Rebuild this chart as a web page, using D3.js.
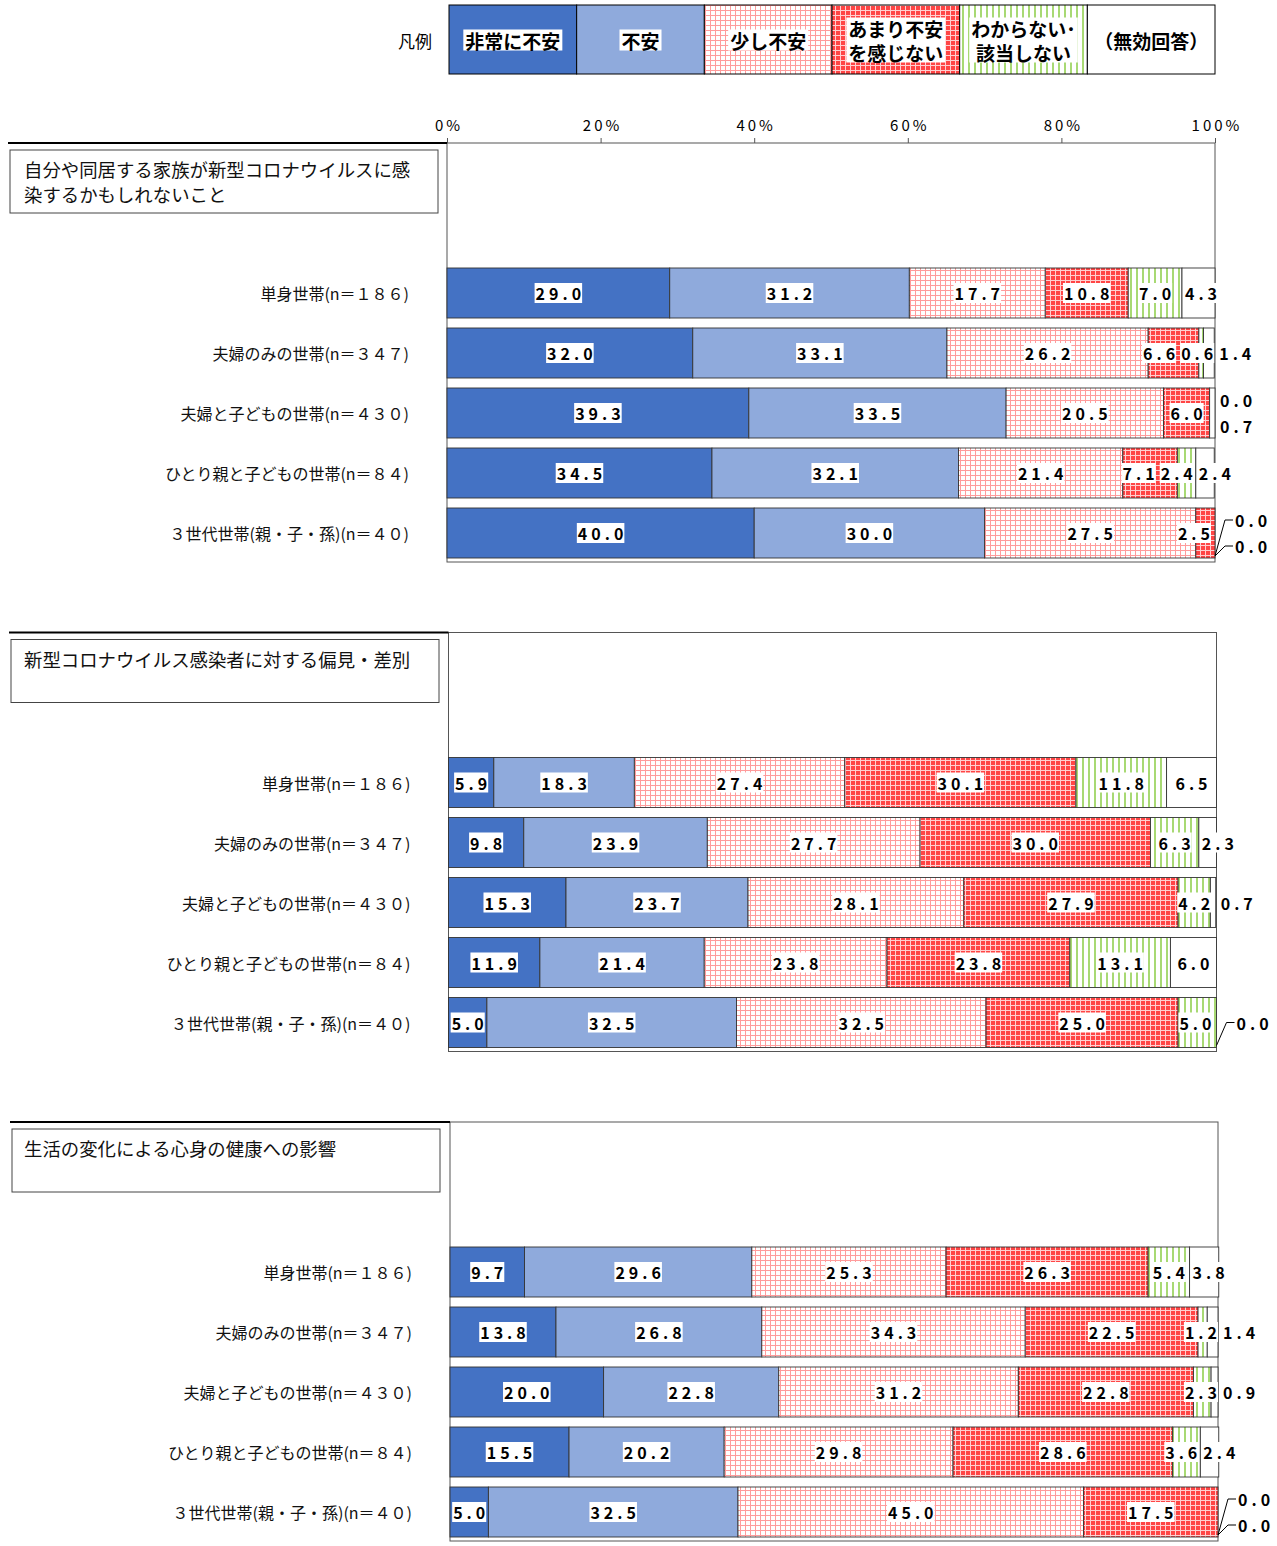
<!DOCTYPE html>
<html>
<head>
<meta charset="utf-8">
<script src="https://cdn.jsdelivr.net/npm/d3@7"></script>
<style>
  body { margin: 0; background: #fff; }
  svg { font-family: "Noto Sans CJK JP", "Noto Sans", sans-serif; }
</style>
</head>
<body>
<svg id="chart" width="1277" height="1546"></svg>
<script>
const categories = [
  "単身世帯(n＝１８６)",
  "夫婦のみの世帯(n＝３４７)",
  "夫婦と子どもの世帯(n＝４３０)",
  "ひとり親と子どもの世帯(n＝８４)",
  "３世代世帯(親・子・孫)(n＝４０)"
];
const series = ["非常に不安", "不安", "少し不安", "あまり不安を感じない", "わからない・該当しない", "（無効回答）"];
const legendLines = [["非常に不安"], ["不安"], ["少し不安"], ["あまり不安", "を感じない"], ["わからない･", "該当しない"], ["（無効回答）"]];
const titles = [
  ["自分や同居する家族が新型コロナウイルスに感", "染するかもしれないこと"],
  ["新型コロナウイルス感染者に対する偏見・差別"],
  ["生活の変化による心身の健康への影響"]
];
const ticks = [0, 20, 40, 60, 80, 100];

// values per category, in series order
const infection = [
  [29.0, 31.2, 17.7, 10.8, 7.0, 4.3],
  [32.0, 33.1, 26.2, 6.6, 0.6, 1.4],
  [39.3, 33.5, 20.5, 6.0, 0.0, 0.7],
  [34.5, 32.1, 21.4, 7.1, 2.4, 2.4],
  [40.0, 30.0, 27.5, 2.5, 0.0, 0.0]
];
const prejudice = [
  [5.9, 18.3, 27.4, 30.1, 11.8, 6.5],
  [9.8, 23.9, 27.7, 30.0, 6.3, 2.3],
  [15.3, 23.7, 28.1, 27.9, 4.2, 0.7],
  [11.9, 21.4, 23.8, 23.8, 13.1, 6.0],
  [5.0, 32.5, 32.5, 25.0, 5.0, 0.0]
];
const health = [
  [9.7, 29.6, 25.3, 26.3, 5.4, 3.8],
  [13.8, 26.8, 34.3, 22.5, 1.2, 1.4],
  [20.0, 22.8, 31.2, 22.8, 2.3, 0.9],
  [15.5, 20.2, 29.8, 28.6, 3.6, 2.4],
  [5.0, 32.5, 45.0, 17.5, 0.0, 0.0]
];
const panels = [infection, prejudice, health];

const svg = d3.select('#chart');
const defs = svg.append('defs');

// fill patterns
let p = defs.append('pattern').attr('id', 'pinkGrid')
  .attr('patternUnits', 'userSpaceOnUse').attr('width', 5).attr('height', 5);
p.append('rect').attr('width', 5).attr('height', 5).attr('fill', '#fff');
p.append('path').attr('d', 'M0,0.5H5M0.5,0V5').attr('stroke', '#ff9c9c').attr('stroke-width', 1);

p = defs.append('pattern').attr('id', 'redGrid')
  .attr('patternUnits', 'userSpaceOnUse').attr('width', 5).attr('height', 5);
p.append('rect').attr('width', 5).attr('height', 5).attr('fill', '#ff4545');
p.append('path').attr('d', 'M0,0.5H5M0.5,0V5').attr('stroke', '#ffd0d0').attr('stroke-width', 1);

p = defs.append('pattern').attr('id', 'greenLines')
  .attr('patternUnits', 'userSpaceOnUse').attr('width', 6).attr('height', 6);
p.append('rect').attr('width', 6).attr('height', 6).attr('fill', '#fff');
p.append('path').attr('d', 'M3,0V6').attr('stroke', '#92d050').attr('stroke-width', 1.6);

const fills = ['#4472c4', '#8faadc', 'url(#pinkGrid)', 'url(#redGrid)', 'url(#greenLines)', '#fff'];

// value label with white box behind it
function addLabel(g, cx, cy, v, anchor) {
  const t = g.append('text')
    .attr('x', cx).attr('y', cy)
    .attr('text-anchor', anchor)
    .attr('dominant-baseline', 'central')
    .attr('font-size', 16).attr('font-weight', 'bold')
    .attr('letter-spacing', 4)
    .attr('fill', '#000')
    .text(v.toFixed(1));
  if (anchor === 'middle') t.attr('dx', 2);
  const b = t.node().getBBox();
  const r = g.insert('rect', () => t.node())
    .attr('x', b.x - 1).attr('y', b.y + 2)
    .attr('width', b.width - 2).attr('height', b.height - 4)
    .attr('fill', '#fff');
  return { t, r, left: b.x - 1, right: b.x + b.width - 3 };
}

function shiftLabel(lab, dx) {
  lab.t.attr('x', +lab.t.attr('x') + dx);
  lab.r.attr('x', +lab.r.attr('x') + dx);
  lab.left += dx;
  lab.right += dx;
}

// legend
const lx = d3.scaleBand().domain(series).range([449, 1215]);
const legend = svg.append('g');
legend.append('text').attr('x', 432).attr('y', 40)
  .attr('text-anchor', 'end').attr('dominant-baseline', 'central')
  .attr('font-size', 17).text('凡例');
series.forEach((s, k) => {
  legend.append('rect')
    .attr('x', lx(s)).attr('y', 5)
    .attr('width', lx.bandwidth()).attr('height', 69)
    .attr('fill', fills[k]).attr('stroke', '#000').attr('stroke-width', 1);
  const lines = legendLines[k];
  const tg = legend.append('g');
  lines.forEach((ln, j) => {
    tg.append('text')
      .attr('x', lx(s) + lx.bandwidth() / 2)
      .attr('y', 40 + (j - (lines.length - 1) / 2) * 24)
      .attr('text-anchor', 'middle').attr('dominant-baseline', 'central')
      .attr('font-size', 19).attr('font-weight', 'bold')
      .text(ln);
  });
  const b = tg.node().getBBox();
  tg.insert('rect', 'text')
    .attr('x', b.x - 2).attr('y', b.y + 3)
    .attr('width', b.width + 4).attr('height', b.height - 6)
    .attr('fill', '#fff');
});

panels.forEach((values, i) => {
  const top = 143 + i * 489.5;
  const x0 = 447 + i * 1.5, x1 = 1215 + i * 1.5;
  const x = d3.scaleLinear().domain([0, 100]).range([x0, x1]);
  const y = d3.scaleBand().domain(categories)
    .range([top + 120, top + 420]).paddingInner(1 / 6).paddingOuter(1 / 12);
  const g = svg.append('g');

  // frame
  g.append('rect').attr('x', x0).attr('y', top)
    .attr('width', x1 - x0).attr('height', 419)
    .attr('fill', 'none').attr('stroke', '#555').attr('stroke-width', 1);
  g.append('line').attr('x1', 8 + i).attr('x2', x0).attr('y1', top).attr('y2', top)
    .attr('stroke', '#000').attr('stroke-width', 2);

  // title box
  g.append('rect').attr('x', 10 + i).attr('y', top + 7)
    .attr('width', 428).attr('height', 63)
    .attr('fill', '#fff').attr('stroke', '#444').attr('stroke-width', 1);
  titles[i].forEach((ln, j) => {
    g.append('text').attr('x', 24).attr('y', top + 34 + j * 25)
      .attr('font-size', 18.4).attr('fill', '#111').text(ln);
  });

  if (i === 0) {
    const ax = g.append('g').attr('transform', `translate(0,${top})`)
      .call(d3.axisTop(x).tickValues(ticks).tickSize(5).tickPadding(7).tickFormat(d => d + '%'));
    ax.attr('font-family', null);
    ax.select('.domain').remove();
    ax.selectAll('line').attr('stroke', '#555');
    ax.selectAll('text').attr('font-size', 15).attr('letter-spacing', 3)
      .attr('dx', 1.5).attr('fill', '#000');
  }

  // category labels
  g.selectAll('.cat').data(categories).enter().append('text')
    .attr('x', x0 - 38)
    .attr('y', d => y(d) + y.bandwidth() / 2)
    .attr('text-anchor', 'end').attr('dominant-baseline', 'central')
    .attr('font-size', 16).attr('fill', '#111')
    .text(d => d);

  const rows = categories.map((c, r) => {
    const o = { cat: c };
    series.forEach((s, k) => { o[s] = values[r][k]; });
    return o;
  });
  const stacked = d3.stack().keys(series)(rows);

  stacked.forEach((layer, k) => {
    g.selectAll(null).data(layer).enter().append('rect')
      .attr('x', d => x(d[0]))
      .attr('y', d => y(d.data.cat))
      .attr('width', d => x(d[1]) - x(d[0]))
      .attr('height', y.bandwidth())
      .attr('fill', fills[k])
      .attr('stroke', '#333').attr('stroke-width', 0.9);
  });

  // value labels
  categories.forEach((c, r) => {
    const cy = y(c) + y.bandwidth() / 2;
    const vals = values[r];
    const xEnd = x(d3.sum(vals));
    const outside = [];
    const inside = [];
    vals.forEach((v, k) => {
      const seg = stacked[k][r];
      if (v === 0 || (k === vals.length - 1 && v < 2)) {
        outside.push({ v, k });
      } else {
        const lab = addLabel(g, (x(seg[0]) + x(seg[1])) / 2, cy, v, 'middle');
        lab.k = k;
        lab.start = x(seg[0]);
        lab.narrow = x(seg[1]) - x(seg[0]) < lab.right - lab.left;
        inside.push(lab);
      }
    });
    outside.forEach((o, j) => {
      const ly = cy + (j - (outside.length - 1) / 2) * 26;
      const trailing = vals.slice(o.k).every(v => v === 0);
      if (trailing) {
        g.append('path')
          .attr('d', `M${xEnd},${cy + y.bandwidth() / 2 - 2}L${xEnd + 10},${ly}H${xEnd + 18}`)
          .attr('fill', 'none').attr('stroke', '#000').attr('stroke-width', 1);
        addLabel(g, xEnd + 20, ly, o.v, 'start');
      } else {
        const lab = addLabel(g, xEnd + 5, ly, o.v, 'start');
        lab.k = o.k;
        if (outside.length === 1) inside.push(lab);
      }
    });
    const last = inside[inside.length - 1];
    if (last.k === series.length - 1) {
      // a narrow last segment keeps its label starting at the segment
      if (last.narrow) shiftLabel(last, last.start + 2 - last.left);
    } else if (last.right > xEnd - 4) {
      // keep labels of other series inside the bar
      shiftLabel(last, xEnd - 4 - last.right);
    }
    // push crowded labels to the left so they don't cover each other
    for (let j = inside.length - 2; j >= 0; j--) {
      const limit = inside[j + 1].left - 4;
      if (inside[j].right > limit) shiftLabel(inside[j], limit - inside[j].right);
    }
  });
});
</script>
</body>
</html>
